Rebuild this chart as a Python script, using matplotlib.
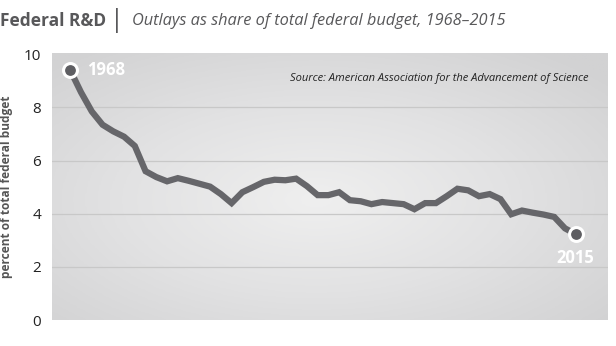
import numpy as np
import matplotlib
matplotlib.use("Agg")
import matplotlib.pyplot as plt
from matplotlib.colors import LinearSegmentedColormap

years = list(range(1968, 2016))
share = [9.40, 8.57, 7.85, 7.35, 7.10, 6.90, 6.55, 5.60, 5.38, 5.22, 5.34, 5.24, 5.13, 5.02,
         4.74, 4.40, 4.81, 5.00, 5.20, 5.28, 5.26, 5.32, 5.04, 4.70, 4.70, 4.81, 4.51, 4.47,
         4.36, 4.44, 4.40, 4.36, 4.17, 4.40, 4.40, 4.66, 4.94, 4.88, 4.66, 4.74, 4.55, 3.98,
         4.12, 4.04, 3.97, 3.88, 3.45, 3.23]
yticks = [0, 2, 4, 6, 8, 10]

fig = plt.figure(figsize=(6.16, 3.46), dpi=100)
ax = fig.add_axes([52/616, 1-320/346, 556/616, 267/346])
ax.set_xlim(1966.3, 2018.0)
ax.set_ylim(0, 10.05)

# radial gradient background
nx, ny = 400, 200
gx, gy = np.meshgrid(np.linspace(-1, 1, nx), np.linspace(-1, 1, ny))
r = np.sqrt(((gx + 0.05) / 1.0) ** 2 + ((gy - 0.1) / 1.0) ** 2)
cmap = LinearSegmentedColormap.from_list("bg", ["#efefef", "#e2e2e3", "#d2d2d3"])
ax.imshow(r, cmap=cmap, extent=[0, 1, 0, 1], transform=ax.transAxes, aspect="auto",
          zorder=0, vmin=0, vmax=1.4)

for v in yticks[1:-1]:
    ax.axhline(v, color="#c8c8c8", lw=0.9, zorder=1)

ax.plot(years, share, color="#66666a", lw=4.5, solid_joinstyle="miter", zorder=3)
ax.plot([years[0], years[-1]], [share[0], share[-1]], "o", ms=10, mfc="#5e5e62",
        mec="white", mew=2.2, zorder=4)

ax.text(years[0] + 1.6, share[0], "1968", color="white", fontsize=12, fontweight="bold",
        family="Open Sans", va="center", ha="left", zorder=5)
ax.text(years[-1], share[-1] - 0.9, "2015", color="white", fontsize=12, fontweight="bold",
        family="Open Sans", va="center", ha="center", zorder=5)

ax.text(0.965, 0.905, "Source: American Association for the Advancement of Science",
        transform=ax.transAxes, ha="right", va="center", fontsize=8, style="italic",
        family="Open Sans", color="#222222")

for s in ax.spines.values():
    s.set_visible(False)
ax.set_xticks([])
ax.set_yticks(yticks)
ax.set_yticklabels([str(t) for t in yticks], fontsize=11, family="Open Sans", color="#222222")
ax.tick_params(axis="y", length=0, pad=8)
ax.set_ylabel("percent of total federal budget", fontsize=8.6, fontweight="bold",
              family="Open Sans", color="#555555")
ax.yaxis.set_label_coords(-0.071, 0.5)

fig.text(0.0, 0.94, "Federal R&D", fontsize=12.5, fontweight="bold", family="Open Sans",
         color="#58585a", ha="left", va="center")
fig.text(117/616, 0.94, "|", fontsize=18, family="Open Sans", color="#58585a",
         ha="center", va="center")
fig.text(132/616, 0.94, "Outlays as share of total federal budget, 1968\u20132015", fontsize=11.8,
         style="italic", family="Open Sans", color="#58585a", ha="left", va="center")

fig.savefig("out.png", dpi=100)
